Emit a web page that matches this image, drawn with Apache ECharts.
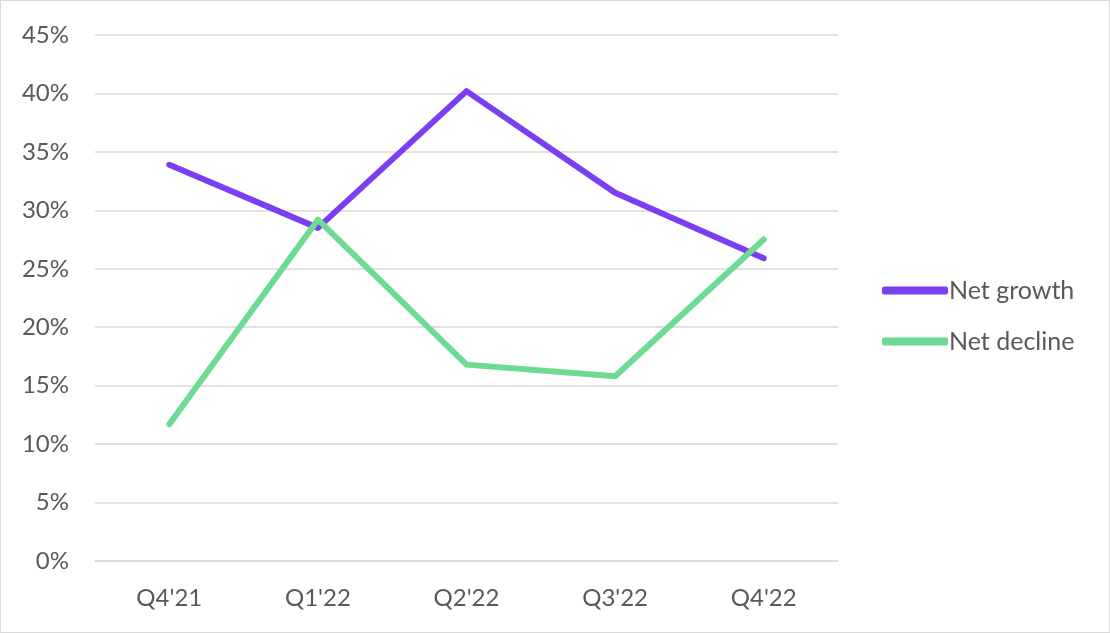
<!DOCTYPE html>
<html>
<head>
<meta charset="utf-8">
<script src="https://cdn.jsdelivr.net/npm/echarts@6/dist/echarts.min.js"></script>
<style>
  html, body { margin: 0; padding: 0; background: #fff; }
  #main { width: 1108px; height: 631px; border: 1px solid #d9d9d9; }
</style>
</head>
<body>
<div id="main"></div>
<script>
var quarters = ["Q4'21", "Q1'22", "Q2'22", "Q3'22", "Q4'22"];
var netGrowth = [33.9, 28.5, 40.2, 31.5, 25.9];
var netDecline = [11.7, 29.2, 16.8, 15.8, 27.5];

var chart = echarts.init(document.getElementById('main'));
var textColor = '#595959';
var option = {
    animation: false,
    textStyle: { fontFamily: 'Lato' },
    grid: { left: 94, right: 271, top: 34, bottom: 71 },
    legend: {
        orient: 'vertical',
        left: 876,
        top: 272,
        itemWidth: 66,
        itemHeight: 8,
        itemGap: 26,
        icon: 'roundRect',
        textStyle: { color: textColor, fontSize: 25, fontFamily: 'Lato', padding: [0, 0, 0, -4] },
        data: ['Net growth', 'Net decline']
    },
    xAxis: {
        type: 'category',
        data: quarters,
        boundaryGap: true,
        axisLine: { lineStyle: { color: '#d9d9d9', width: 1.5 } },
        axisTick: { show: false },
        axisLabel: { color: textColor, fontSize: 24, margin: 25 }
    },
    yAxis: {
        type: 'value',
        min: 0,
        max: 45,
        interval: 5,
        axisLine: { show: false },
        axisTick: { show: false },
        splitLine: { lineStyle: { color: '#d9d9d9', width: 1.5 } },
        axisLabel: { color: textColor, fontSize: 24, margin: 26, formatter: '{value}%' }
    },
    series: [{
        name: 'Net growth',
        type: 'line',
        data: netGrowth,
        showSymbol: false,
        color: '#7b3ff2',
        lineStyle: { width: 6, cap: 'round', join: 'round' }
    }, {
        name: 'Net decline',
        type: 'line',
        data: netDecline,
        showSymbol: false,
        color: '#6ddb94',
        lineStyle: { width: 6, cap: 'round', join: 'round' }
    }]
};
chart.setOption(option);
window.addEventListener('resize', chart.resize);
</script>
</body>
</html>
